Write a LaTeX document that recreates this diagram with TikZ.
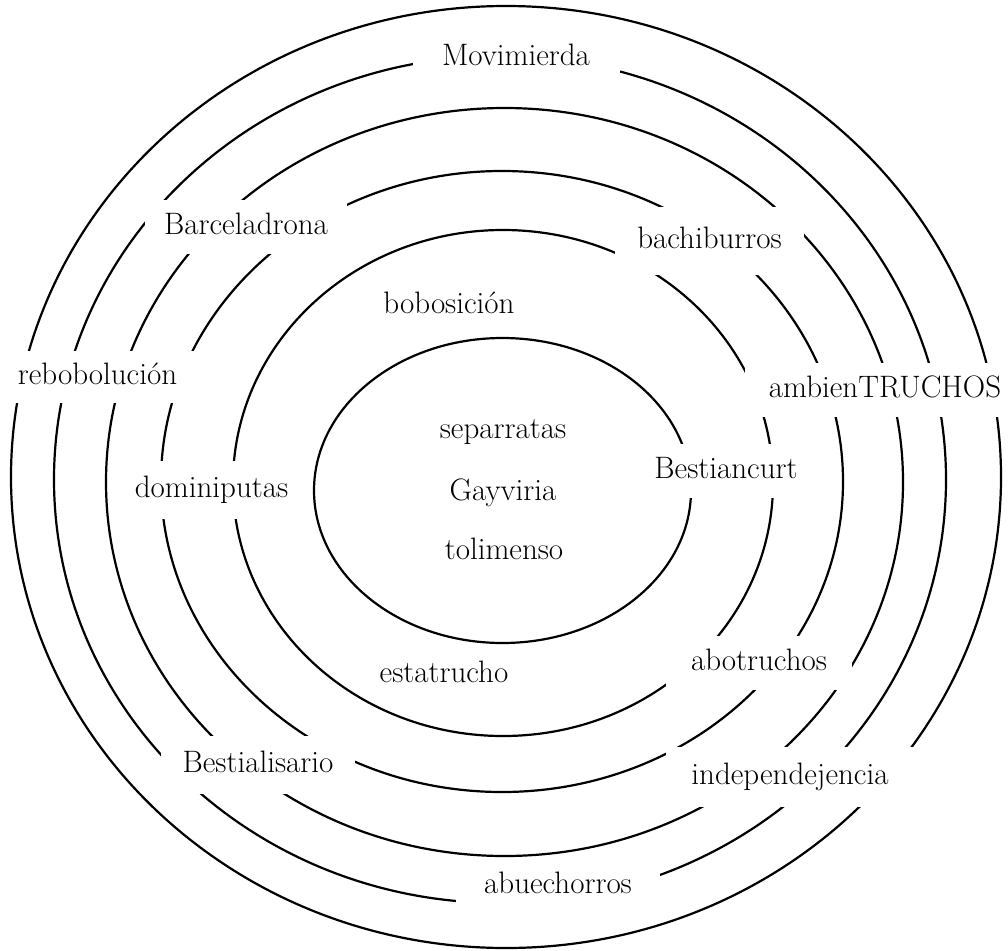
\documentclass[tikz,border=0pt]{standalone}
\usepackage{fontspec}
\begin{document}
\begin{tikzpicture}[x=1pt,y=-1pt,
  ring/.style={line width=2.2pt, black},
  txt/.style={inner sep=0pt, font=\fontsize{31}{36}\selectfont,
              text height=20pt, text depth=5.7pt},
  lbl/.style={txt, fill=white}]
\useasboundingbox (0,0) rectangle (1008,950);

% concentric rings, innermost first
\draw[ring] (502.5,490.5) ellipse [x radius=188.5pt, y radius=152.5pt];
\draw[ring] (503,483)     ellipse [x radius=270pt,   y radius=253pt];
\draw[ring] (502,481.5)   ellipse [x radius=341pt,   y radius=310.5pt];
\draw[ring] (504.5,482)   ellipse [x radius=398.5pt, y radius=374pt];
\draw[ring] (500,479.5)   ellipse [x radius=446pt,   y radius=423.5pt];
\draw[ring] (506,477)     ellipse [x radius=495pt,   y radius=471pt];

% words in the centre
\node[txt] (separratas) at (503,431) {separratas};
\node[txt] (gayviria)   at (503,493) {Gayviria};
\node[txt] (tolimenso)  at (504,552) {tolimenso};

% labels set on the rings, each blanking the lines behind it
\node[lbl, minimum width=207pt, minimum height=56pt] (movimierda)   at (516,58.6) {Movimierda};
\node[lbl, minimum width=202pt, minimum height=54pt] (barceladrona) at (246,227)  {Barceladrona};
\node[lbl, minimum width=189pt, minimum height=68pt] (bachiburros)  at (709.5,241) {bachiburros};
\node[lbl, minimum width=170pt, minimum height=50pt] (bobosicion)   at (449,306)  {bobosición};
\node[lbl, minimum width=210pt, minimum height=52pt] (rebobolucion) at (97.5,377) {rebobolución};
\node[lbl, minimum width=280pt, minimum height=54pt] (ambientruchos) at (885,390) {ambienTRUCHOS};
\node[lbl, minimum width=186pt, minimum height=54pt] (bestiancurt)  at (726,471)  {Bestiancurt};
\node[lbl, minimum width=196pt, minimum height=58pt] (dominiputas)  at (211.5,490) {dominiputas};
\node[lbl, minimum width=140pt, minimum height=42pt] (estatrucho)   at (444,675)  {estatrucho};
\node[lbl, minimum width=186pt, minimum height=54pt] (abotruchos)   at (759,663)  {abotruchos};
\node[lbl, minimum width=194pt, minimum height=58pt] (bestialisario) at (258,765) {Bestialisario};
\node[lbl, minimum width=248pt, minimum height=60pt] (independejencia) at (790,777) {independejencia};
\node[lbl, minimum width=204pt, minimum height=56pt] (abuechorros)  at (558,886)  {abuechorros};
\end{tikzpicture}
\end{document}
